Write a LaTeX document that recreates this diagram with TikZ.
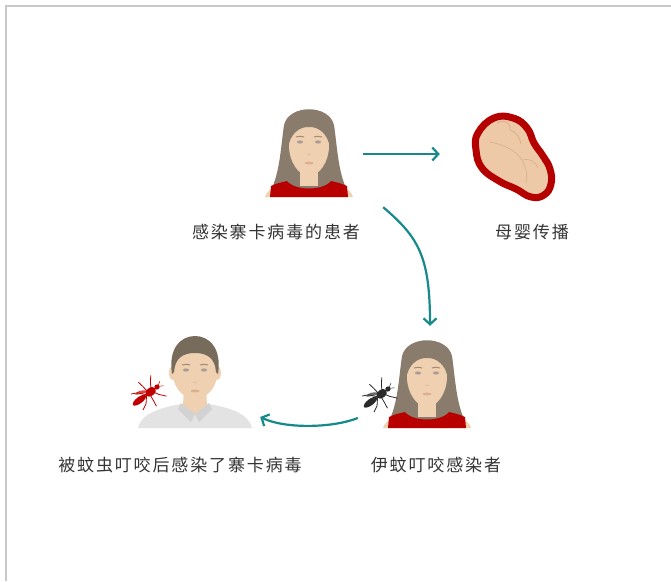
\documentclass[tikz,border=0pt]{standalone}
\usepackage{fontspec}
\usepackage{tikz}
\usetikzlibrary{positioning,arrows.meta}

\newfontfamily\cjk[LetterSpace=11]{Noto Sans CJK SC}

\definecolor{framegray}{HTML}{C8C8C8}
\definecolor{flowteal}{HTML}{17898A}
\definecolor{skin}{HTML}{EFD0B1}
\definecolor{skinshade}{HTML}{E2BC9B}
\definecolor{hairw}{HTML}{8A7C6C}
\definecolor{hairm}{HTML}{776B5C}
\definecolor{shirtred}{HTML}{B80000}
\definecolor{shirtgray}{HTML}{E3E3E3}
\definecolor{collar}{HTML}{D2D2D2}
\definecolor{eyegray}{HTML}{A89C94}
\definecolor{brow}{HTML}{A48A74}
\definecolor{lip}{HTML}{DDAE90}
\definecolor{wombred}{HTML}{B50000}
\definecolor{fetusskin}{HTML}{EDC9A8}
\definecolor{fetusline}{HTML}{D9AE8A}
\definecolor{bugred}{HTML}{C00000}
\definecolor{bugblack}{HTML}{2A2A2A}
\definecolor{textgray}{HTML}{333333}

\tikzset{
  figbox/.style={minimum width=84, minimum height=94, inner sep=0},
  lbl/.style={font=\cjk\fontsize{17}{19}\selectfont, text=textgray, inner sep=0},
  flow/.style={draw=flowteal, line width=2.2, -{Straight Barb[length=6,width=13,line width=2.2]}},
  % face details shared by both people
  pics/eyes/.style={code={
    \fill[eyegray] (-9,-8) ellipse (3 and 1.6);
    \fill[eyegray] (9,-8) ellipse (3 and 1.6);
    \draw[brow, line width=1] (-13,-13) .. controls (-10,-14) and (-7,-14) .. (-5,-13);
    \draw[brow, line width=1] (13,-13) .. controls (10,-14) and (7,-14) .. (5,-13);
    \draw[skinshade, line width=0.8] (-2,4) .. controls (0,5) .. (2,4);
    \fill[lip] (0,13) ellipse (4.5 and 1.4);
  }},
  pics/woman/.style={code={
    \fill[skin] (-44,47) .. controls (-42,38) and (-26,33) .. (-9,30) -- (9,30) .. controls (26,33) and (42,38) .. (44,47) -- cycle;
    \fill[hairw] (-38,40) .. controls (-29,22) and (-28,-5) .. (-25,-25) .. controls (-20,-46) and (20,-46) .. (25,-25) .. controls (28,-5) and (29,22) .. (38,40) -- cycle;
    \fill[skin] (-9,10) rectangle (9,36);
    \fill[skin] (0,-26) .. controls (14,-26) and (20,-16) .. (20,-4) .. controls (20,12) and (10,26) .. (0,26) .. controls (-10,26) and (-20,12) .. (-20,-4) .. controls (-20,-16) and (-14,-26) .. (0,-26);
    \fill[hairw] (-21,-2) .. controls (-22,-26) and (-10,-36) .. (0,-36) .. controls (10,-36) and (22,-26) .. (21,-2) .. controls (19,-16) and (10,-23) .. (1,-23) -- (-1,-23) .. controls (-10,-23) and (-19,-16) .. (-21,-2);
    \pic {eyes};
    \fill[shirtred] (-39,47) -- (-38,36) .. controls (-32,33) and (-26,32) .. (-22,31) .. controls (-14,41) and (14,41) .. (22,31) .. controls (26,32) and (32,33) .. (38,36) -- (39,47) -- cycle;
  }},
  pics/man/.style={code={
    \fill[shirtgray] (-57,50) .. controls (-54,36) and (-36,30) .. (-14,26) -- (14,26) .. controls (36,30) and (54,36) .. (57,50) -- cycle;
    \fill[skin] (-11,8) -- (11,8) -- (12,28) -- (0,36) -- (-12,28) -- cycle;
    \fill[collar] (-14,25) -- (0,36) -- (-4,44) -- (-17,31) -- cycle;
    \fill[collar] (14,25) -- (0,36) -- (4,44) -- (17,31) -- cycle;
    \fill[skin] (-22,-5) ellipse (4 and 7);
    \fill[skin] (22,-5) ellipse (4 and 7);
    \fill[skin] (0,-30) .. controls (16,-30) and (22,-18) .. (22,-4) .. controls (22,10) and (11,21) .. (0,21) .. controls (-11,21) and (-22,10) .. (-22,-4) .. controls (-22,-18) and (-16,-30) .. (0,-30);
    \fill[hairm] (-23,-4) .. controls (-27,-30) and (-14,-42) .. (0,-42) .. controls (14,-42) and (27,-30) .. (23,-4) -- (21,-6) .. controls (20,-20) and (12,-25) .. (0,-25) .. controls (-12,-25) and (-20,-20) .. (-21,-6) -- cycle;
    \pic {eyes};
  }},
  pics/mosquito/.style={code={
    \begin{scope}[rotate=37]
      \foreach \s in {1,-1} {
        \draw[#1, line width=0.8] (3,0) -- (7,7*\s) -- (12,13*\s);
        \draw[#1, line width=0.8] (0,0) -- (-1,9*\s) -- (-2,15*\s);
        \draw[#1, line width=0.8] (-3,0) -- (-9,7*\s) -- (-15,10*\s);
        \draw[#1, line width=0.5] (11,0) -- (16,3*\s);
      }
      \fill[#1, opacity=0.7] (1,-2) .. controls (-4,-8) and (-10,-9) .. (-12,-7) .. controls (-8,-4) and (-4,-2) .. (1,-2);
      \fill[#1] (-12,0) ellipse (8 and 3.2);
      \fill[#1] (2,0) ellipse (6 and 4);
      \fill[#1] (10,0) circle (2.6);
    \end{scope}
  }}
}

\begin{document}
\begin{tikzpicture}[x=1pt, y=-1pt]
  \useasboundingbox (0,0) rectangle (671,581);
  \draw[framegray, line width=2] (6,581) -- (6,6) -- (671,6);

  % people
  \pic at (309,150) {woman};
  \pic at (427,381) {woman};
  \pic at (195,378) {man};
  \pic at (149,393) {mosquito=bugred};
  \pic at (380,395) {mosquito=bugblack};

  % fetus in the womb
  \draw[wombred, line width=7, fill=fetusskin, line join=round]
    plot[smooth cycle, tension=0.75] coordinates {(478,133) (494,118) (513,118) (527,128) (534,143) (543,156) (550,169) (551,184) (544,195) (531,197) (516,189) (499,181) (482,168) (476,150)};
  \fill[wombred] (507,114) .. controls (520,114) and (530,122) .. (535,137) .. controls (529,128) and (522,123) .. (515,120) .. controls (511,118) and (509,116) .. (507,114);
  \draw[fetusline, line width=0.8] (497,123) .. controls (504,119) and (511,122) .. (510,130) .. controls (516,132) and (520,137) .. (521,144);
  \draw[fetusline, line width=0.6] (490,142) .. controls (505,145) and (515,150) .. (522,160) .. controls (526,167) and (528,175) .. (526,183);
  \draw[fetusline, line width=0.6] (523,160) .. controls (530,158) and (536,162) .. (538,168);

  % boxes round the figures, for the arrows
  \node[figbox] (patient) at (309,150) {};
  \node[figbox] (fetus)   at (514,156) {};
  \node[figbox] (bitten)  at (427,381) {};
  \node[figbox, minimum width=114] (victim) at (195,378) {};

  % labels
  \node[lbl] (patientlbl) at (276,232) {感染寨卡病毒的患者};
  \node[lbl] (fetuslbl)   at (532,232) {母婴传播};
  \node[lbl] (bittenlbl)  at (436,465) {伊蚊叮咬感染者};
  \node[lbl] (victimlbl)  at (180,465) {被蚊虫叮咬后感染了寨卡病毒};

  % spread of the virus
  \draw[flow] ([shift={(12,4)}]patient.east) -- ([shift={(-32,-2)}]fetus.west);
  \draw[flow] ([shift={(32,10)}]patient.south east) .. controls +(35,30) and +(0,-70) .. ([shift={(3,-8)}]bitten.north);
  \draw[flow] ([shift={(-27,37)}]bitten.west) .. controls +(-25,10) and +(25,12) .. ([shift={(8,39)}]victim.east);
\end{tikzpicture}
\end{document}
